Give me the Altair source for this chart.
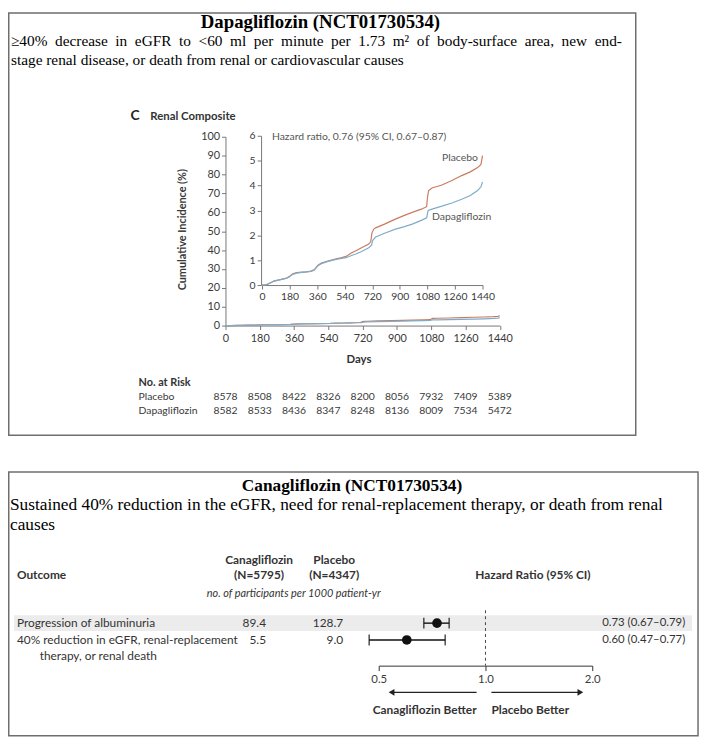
import altair as alt
import pandas as pd

# ---------------- data ----------------
plac_days = [0, 30, 60, 77, 120, 161, 180, 200, 226, 260, 290, 320, 342, 365, 387, 430, 484, 520, 549, 580,
             613, 650, 697, 710, 718, 730, 742, 800, 871, 930, 981, 1040, 1075, 1080, 1088, 1110, 1175, 1240,
             1304, 1360, 1408, 1430, 1440]
plac_inc = [0, 0.02, 0.1, 0.16, 0.22, 0.28, 0.35, 0.45, 0.5, 0.52, 0.53, 0.56, 0.62, 0.8, 0.88, 0.96, 1.05, 1.1,
            1.15, 1.28, 1.38, 1.5, 1.65, 1.75, 2.1, 2.25, 2.3, 2.45, 2.65, 2.8, 2.92, 3.05, 3.15, 3.5, 3.8, 3.9,
            4.02, 4.2, 4.4, 4.55, 4.72, 4.85, 5.2]
dapa_days = [0, 30, 60, 77, 120, 161, 180, 200, 226, 260, 290, 320, 342, 365, 387, 430, 484, 520, 549, 580,
             613, 650, 697, 715, 723, 742, 800, 871, 930, 981, 1040, 1075, 1085, 1110, 1175, 1240, 1304, 1360,
             1408, 1430, 1440]
dapa_inc = [0, 0.02, 0.1, 0.16, 0.22, 0.28, 0.33, 0.43, 0.48, 0.51, 0.53, 0.55, 0.6, 0.78, 0.86, 0.95, 1.03,
            1.07, 1.1, 1.18, 1.25, 1.35, 1.5, 1.6, 1.8, 1.93, 2.08, 2.25, 2.35, 2.45, 2.6, 2.7, 3.0, 3.05, 3.17,
            3.3, 3.45, 3.6, 3.8, 3.95, 4.15]

groups = ["Placebo", "Dapagliflozin"]
group_colors = ["#c97b5f", "#7eaccb"]

risk_days = [0, 180, 360, 540, 720, 900, 1080, 1260, 1440]
risk_placebo = [8578, 8508, 8422, 8326, 8200, 8056, 7932, 7409, 5389]
risk_dapa = [8582, 8533, 8436, 8347, 8248, 8136, 8009, 7534, 5472]

main_y_ticks = [0, 10, 20, 30, 40, 50, 60, 70, 80, 90, 100]
inset_y_ticks = [0, 1, 2, 3, 4, 5, 6]

outcome_line1 = ["Progression of albuminuria", "40% reduction in eGFR, renal-replacement"]
outcome_line2 = ["", "therapy, or renal death"]
cana_rate = ["89.4", "5.5"]
plac_rate = ["128.7", "9.0"]
hr = [0.73, 0.60]
hr_lo = [0.67, 0.47]
hr_hi = [0.79, 0.77]
hr_text = ["0.73 (0.67\u20130.79)", "0.60 (0.47\u20130.77)"]
forest_ticks = [0.5, 1.0, 2.0]

top_line1 = "\u226540% decrease in eGFR to <60 ml per minute per 1.73 m\u00b2 of body-surface area, new end-"
top_line2 = "stage renal disease, or death from renal or cardiovascular causes"

# ---------------- frames ----------------
km = pd.concat([
    pd.DataFrame({"day": plac_days, "inc": plac_inc, "group": "Placebo"}),
    pd.DataFrame({"day": dapa_days, "inc": dapa_inc, "group": "Dapagliflozin"}),
])
risk = pd.DataFrame({"day": risk_days, "pl": [str(v) for v in risk_placebo], "da": [str(v) for v in risk_dapa]})
forest = pd.DataFrame({"row": [1, 2], "o1": outcome_line1, "o2": outcome_line2, "c": cana_rate, "p": plac_rate,
                       "hr": hr, "lo": hr_lo, "hi": hr_hi, "t": hr_text})
caps = pd.DataFrame({"row": [1, 1, 2, 2], "v": [hr_lo[0], hr_hi[0], hr_lo[1], hr_hi[1]]})

W, H = 700, 736
O = 8  # page margin offset
SANS = "Lato"
SERIF = "Liberation Serif"
TXT = "#333333"


def P(v):
    return v - O


def txt(text, x, y, size=11, font=SANS, weight="normal", align="left", color=TXT, style="normal", angle=0):
    return alt.Chart(pd.DataFrame({"t": [text]})).mark_text(
        align=align, baseline="middle", fontSize=size, font=font, fontWeight=weight, color=color,
        fontStyle=style, angle=angle
    ).encode(x=alt.value(P(x)), y=alt.value(P(y)), text="t:N")


# approximate Times widths (per 1000 em) to emulate justified text
TW = {" ": 250, "\u2265": 549, "%": 833, "<": 564, ".": 250, ",": 250, "-": 333, "\u00b2": 300,
      "a": 444, "b": 500, "c": 444, "d": 500, "e": 444, "f": 333, "g": 500, "h": 500, "i": 278, "l": 278,
      "m": 778, "n": 500, "o": 500, "p": 500, "r": 333, "s": 389, "t": 278, "u": 500, "v": 500, "w": 722,
      "y": 500, "z": 444, "G": 722, "F": 556, "R": 667}


def tw(word, size):
    return sum(TW.get(ch, 500) for ch in word) * size / 1000.0


def justified(text, x0, x1, y, size):
    words = text.split(" ")
    widths = [tw(w, size) for w in words]
    gap = (x1 - x0 - sum(widths)) / (len(words) - 1)
    out = []
    x = x0
    for i, w in enumerate(words):
        if i == len(words) - 1:
            out.append(txt(w, x1, y, size=size, font=SERIF, color="#000", align="right"))
        else:
            out.append(txt(w, x, y, size=size, font=SERIF, color="#000"))
        x += widths[i] + gap
    return out


def box(x1, y1, x2, y2):
    return alt.Chart(pd.DataFrame({"a": [0]})).mark_rect(
        fill="white", fillOpacity=0, stroke="#6e6e6e", strokeWidth=1.5
    ).encode(x=alt.value(x1), x2=alt.value(x2), y=alt.value(y1), y2=alt.value(y2))


color_scale = alt.Scale(domain=groups, range=group_colors)

# ---------------- scales ----------------
main_x = alt.Scale(domain=[0, 1440], range=[P(228), P(505.5)], nice=False, zero=False)
main_y = alt.Scale(domain=[0, 100], range=[P(325), P(134)], nice=False, zero=False)
inset_x = alt.Scale(domain=[0, 1440], range=[P(265), P(488)], nice=False, zero=False)
inset_y = alt.Scale(domain=[0, 6], range=[P(284), P(133)], nice=False, zero=False)
forest_x = alt.Scale(type="log", domain=[0.5, 2], range=[P(383), P(599)], nice=False)
forest_y = alt.Scale(domain=[1, 2], range=[P(626), P(643)], nice=False, zero=False)

ax_common = dict(grid=False, title=None, domainColor="#777777", tickColor="#777777", labelColor="#3a3a3a",
                 labelFont=SANS, tickSize=4, format="d", labelOverlap=False, labelFlush=False)

# ---------------- main KM ----------------
main_lines = alt.Chart(km).mark_line(strokeWidth=1.2).encode(
    x=alt.X("day:Q", scale=main_x, axis=alt.Axis(orient="bottom", offset=P(325) - H, values=risk_days,
                                                  labelFontSize=11, labelPadding=3, **ax_common)),
    y=alt.Y("inc:Q", scale=main_y, axis=alt.Axis(orient="left", offset=-P(228), values=main_y_ticks,
                                                  labelFontSize=11, labelPadding=2, **ax_common)),
    color=alt.Color("group:N", scale=color_scale, legend=None),
    detail="group:N",
)

inset_lines = alt.Chart(km).mark_line(strokeWidth=1.2).encode(
    x=alt.X("day:Q", scale=inset_x, axis=alt.Axis(orient="bottom", offset=P(284) - H, values=risk_days,
                                                   labelFontSize=10.5, labelPadding=3, **ax_common)),
    y=alt.Y("inc:Q", scale=inset_y, axis=alt.Axis(orient="left", offset=-P(264), values=inset_y_ticks,
                                                   labelFontSize=10.5, labelPadding=2, **ax_common)),
    color=alt.Color("group:N", scale=color_scale, legend=None),
    detail="group:N",
)

risk_pl = alt.Chart(risk).mark_text(fontSize=10.5, font=SANS, color="#3a3a3a").encode(
    x=alt.X("day:Q", scale=main_x, axis=None), y=alt.value(P(397)), text="pl:N")
risk_da = alt.Chart(risk).mark_text(fontSize=10.5, font=SANS, color="#3a3a3a").encode(
    x=alt.X("day:Q", scale=main_x, axis=None), y=alt.value(P(411)), text="da:N")

# ---------------- forest ----------------
FS = 12
band = alt.Chart(forest[forest.row == 1]).mark_rect(fill="#ececec").encode(
    x=alt.value(P(14)), x2=alt.value(P(700)), y=alt.value(P(618)), y2=alt.value(P(634)))

dashed = alt.Chart(pd.DataFrame({"v": [1.0]})).mark_rule(color="#444444", strokeDash=[3, 3], strokeWidth=1).encode(
    x=alt.X("v:Q", scale=forest_x, axis=None), y=alt.value(P(613)), y2=alt.value(P(669)))

ci = alt.Chart(forest).mark_rule(color="#111111", strokeWidth=1.4).encode(
    x=alt.X("lo:Q", scale=forest_x, axis=None), x2="hi:Q",
    y=alt.Y("row:Q", scale=forest_y, axis=None))

cap = alt.Chart(caps).mark_tick(orient="vertical", color="#111111", thickness=1.6, size=11).encode(
    x=alt.X("v:Q", scale=forest_x, axis=None),
    y=alt.Y("row:Q", scale=forest_y, axis=None))

pts = alt.Chart(forest).mark_circle(color="#111111", size=95, opacity=1).encode(
    x=alt.X("hr:Q", scale=forest_x,
            axis=alt.Axis(orient="bottom", offset=P(669) - H, values=forest_ticks, format=".1f", grid=False,
                          title=None, domainColor="#333333", tickColor="#333333", tickSize=5,
                          labelColor="#3a3a3a", labelFont=SANS, labelFontSize=11.5, labelPadding=3,
                          labelOverlap=False, labelFlush=False)),
    y=alt.Y("row:Q", scale=forest_y, axis=None))

f_o1 = alt.Chart(forest).mark_text(align="left", fontSize=FS, font=SANS, color=TXT).encode(
    x=alt.value(P(17)), y=alt.Y("row:Q", scale=forest_y, axis=None), text="o1:N")
f_o2 = alt.Chart(forest).mark_text(align="left", fontSize=FS, font=SANS, color=TXT, dy=16).encode(
    x=alt.value(P(40)), y=alt.Y("row:Q", scale=forest_y, axis=None), text="o2:N")
f_c = alt.Chart(forest).mark_text(align="right", fontSize=FS, font=SANS, color=TXT).encode(
    x=alt.value(P(269)), y=alt.Y("row:Q", scale=forest_y, axis=None), text="c:N")
f_p = alt.Chart(forest).mark_text(align="right", fontSize=FS, font=SANS, color=TXT).encode(
    x=alt.value(P(347)), y=alt.Y("row:Q", scale=forest_y, axis=None), text="p:N")
f_t = alt.Chart(forest).mark_text(align="right", fontSize=11.5, font=SANS, color=TXT).encode(
    x=alt.value(P(693)), y=alt.Y("row:Q", scale=forest_y, axis=None), text="t:N")

arrow_l = alt.Chart(pd.DataFrame({"a": [0]})).mark_rule(color="#222222", strokeWidth=1.2).encode(
    x=alt.value(P(395)), x2=alt.value(P(482)), y=alt.value(P(696)))
arrow_r = alt.Chart(pd.DataFrame({"a": [0]})).mark_rule(color="#222222", strokeWidth=1.2).encode(
    x=alt.value(P(497)), x2=alt.value(P(587)), y=alt.value(P(696)))
head_l = alt.Chart(pd.DataFrame({"a": [0]})).mark_point(shape="triangle-left", filled=True, color="#222222",
                                                        size=45, opacity=1).encode(
    x=alt.value(P(396)), y=alt.value(P(696)))
head_r = alt.Chart(pd.DataFrame({"a": [0]})).mark_point(shape="triangle-right", filled=True, color="#222222",
                                                        size=45, opacity=1).encode(
    x=alt.value(P(587)), y=alt.value(P(696)))

layers = [
    box(0.75, 0.75, P(643), P(436)),
    box(0.75, P(473), P(706), P(740)),
    # top box texts
    txt("Dapagliflozin (NCT01730534)", 324, 18, size=19, font=SERIF, weight="bold", align="center", color="#000"),
    *justified(top_line1, 11, 629, 37, 15.5),
    txt(top_line2, 11, 56, size=15.5, font=SERIF, color="#000"),
    txt("C", 132, 113, size=14, weight="bold", color="#222"),
    txt("Renal Composite", 152, 114, size=11.5, weight="bold", color="#333"),
    txt("Cumulative Incidence (%)", 185, 228, size=11, weight="bold", color="#3a3a3a", align="center",
        angle=270),
    txt("Hazard ratio, 0.76 (95% CI, 0.67\u20130.87)", 275, 134, size=10.5, color="#555"),
    txt("Placebo", 447, 156, size=10.5, color="#555"),
    txt("Dapagliflozin", 437, 215, size=10.5, color="#555"),
    txt("Days", 363, 360, size=11.5, weight="bold", color="#333", align="center"),
    txt("No. at Risk", 140, 383, size=11, weight="bold", color="#333"),
    txt("Placebo", 140, 397, size=10.5, color="#3a3a3a"),
    txt("Dapagliflozin", 140, 411, size=10.5, color="#3a3a3a"),
    main_lines, inset_lines, risk_pl, risk_da,
    # bottom box texts
    txt("Canagliflozin (NCT01730534)", 356, 487, size=17.5, font=SERIF, weight="bold", align="center", color="#000"),
    txt("Sustained 40% reduction in the eGFR, need for renal-replacement therapy, or death from renal",
        10, 507, size=17.5, font=SERIF, color="#000"),
    txt("causes", 10, 527, size=17.5, font=SERIF, color="#000"),
    txt("Canagliflozin", 262, 562, size=FS, weight="bold", color=TXT, align="center"),
    txt("(N=5795)", 262, 577, size=FS, weight="bold", color=TXT, align="center"),
    txt("Placebo", 338, 562, size=FS, weight="bold", color=TXT, align="center"),
    txt("(N=4347)", 338, 577, size=FS, weight="bold", color=TXT, align="center"),
    txt("Outcome", 17, 577, size=FS, weight="bold", color=TXT),
    txt("Hazard Ratio (95% CI)", 539, 577, size=FS, weight="bold", color=TXT, align="center"),
    txt("no. of participants per 1000 patient-yr", 297, 597, size=11, color=TXT, align="center",
        style="italic"),
    band, dashed, ci, cap, pts, f_o1, f_o2, f_c, f_p, f_t,
    arrow_l, arrow_r, head_l, head_r,
    txt("Canagliflozin Better", 482, 714, size=FS, weight="bold", color=TXT, align="right"),
    txt("Placebo Better", 497, 714, size=FS, weight="bold", color=TXT),
]

chart = alt.layer(*layers).resolve_scale(x="independent", y="independent").properties(
    width=W, height=H, autosize=alt.AutoSizeParams(type="none"), padding=0
).configure_view(stroke=None)

chart.save("out.html", embed_options={"renderer": "svg", "actions": False})
